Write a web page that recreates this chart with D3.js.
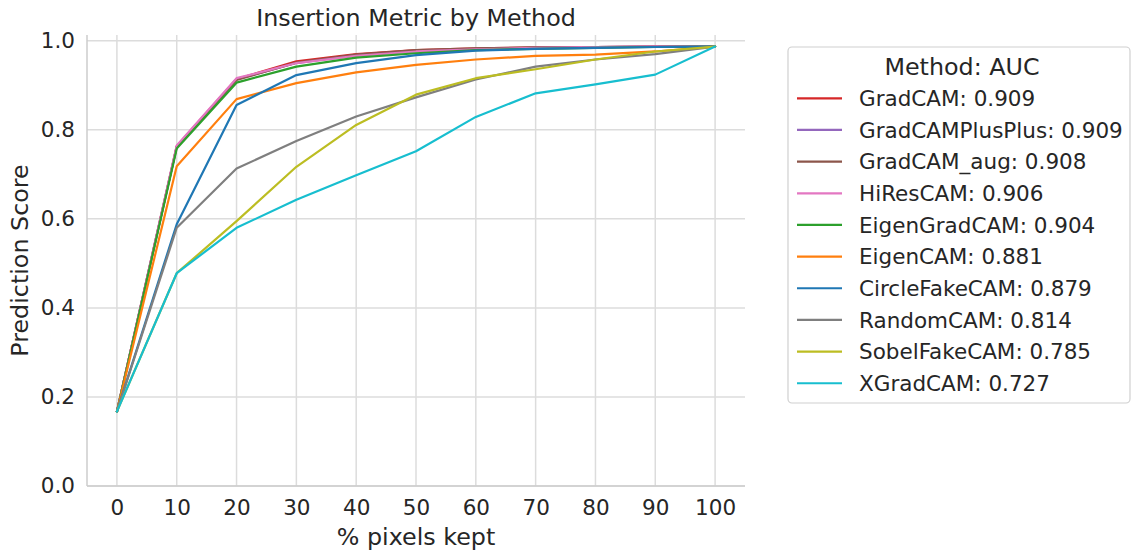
<html>
<script src="https://cdn.jsdelivr.net/npm/d3@7"></script>
<style>
body { margin: 0; background: #fff; }
text { font-family: "DejaVu Sans", sans-serif; fill: #262626; }
</style>
<body></body>
<script>

// data
var pixelsKept = [0, 10, 20, 30, 40, 50, 60, 70, 80, 90, 100];
var methods = ["GradCAM", "GradCAMPlusPlus", "GradCAM_aug", "HiResCAM", "EigenGradCAM",
	"EigenCAM", "CircleFakeCAM", "RandomCAM", "SobelFakeCAM", "XGradCAM"];
var aucs = ["0.909", "0.909", "0.908", "0.906", "0.904", "0.881", "0.879", "0.814", "0.785", "0.727"];
var colors = ["#d62728", "#9467bd", "#8c564b", "#e377c2", "#2ca02c",
	"#ff7f0e", "#1f77b4", "#7f7f7f", "#bcbd22", "#17becf"];

var gradcam         = [0.167, 0.763, 0.914, 0.954, 0.970, 0.979, 0.983, 0.985, 0.986, 0.987, 0.987];
var gradcamPlusPlus = [0.167, 0.762, 0.913, 0.950, 0.968, 0.977, 0.982, 0.984, 0.986, 0.987, 0.987];
var gradcamAug      = [0.167, 0.762, 0.912, 0.951, 0.969, 0.979, 0.983, 0.985, 0.986, 0.987, 0.987];
var hirescam        = [0.167, 0.765, 0.916, 0.950, 0.966, 0.976, 0.981, 0.984, 0.986, 0.987, 0.987];
var eigengradcam    = [0.167, 0.758, 0.906, 0.942, 0.962, 0.972, 0.979, 0.982, 0.984, 0.986, 0.987];
var eigencam        = [0.167, 0.718, 0.869, 0.905, 0.929, 0.946, 0.958, 0.966, 0.969, 0.976, 0.987];
var circlefakecam   = [0.167, 0.588, 0.856, 0.923, 0.950, 0.968, 0.978, 0.982, 0.984, 0.986, 0.987];
var randomcam       = [0.167, 0.580, 0.713, 0.775, 0.830, 0.873, 0.913, 0.942, 0.958, 0.970, 0.987];
var sobelfakecam    = [0.167, 0.478, 0.595, 0.717, 0.811, 0.879, 0.916, 0.936, 0.958, 0.976, 0.987];
var xgradcam        = [0.167, 0.478, 0.580, 0.643, 0.698, 0.752, 0.829, 0.882, 0.902, 0.924, 0.987];

var seriesValues = [gradcam, gradcamPlusPlus, gradcamAug, hirescam, eigengradcam,
	eigencam, circlefakecam, randomcam, sobelfakecam, xgradcam];

var xTicks = [0, 10, 20, 30, 40, 50, 60, 70, 80, 90, 100];
var yTicks = [0.0, 0.2, 0.4, 0.6, 0.8, 1.0];

var screen_w = 1138;
var screen_h = 552;
var plotL = 87, plotR = 745, plotT = 35, plotB = 486;

var svg = d3.select("body").append("svg")
	.attr("width", screen_w)
	.attr("height", screen_h);

var x = d3.scaleLinear().domain([-5, 105]).range([plotL, plotR]);
var y = d3.scaleLinear().domain([0, 1.013]).range([plotB, plotT]);

// grid
svg.append("g").selectAll("line").data(xTicks).enter().append("line")
	.attr("x1", d => x(d)).attr("x2", d => x(d))
	.attr("y1", plotT).attr("y2", plotB)
	.style("stroke", "#dcdcdc").style("stroke-width", 1.5);
svg.append("g").selectAll("line").data(yTicks).enter().append("line")
	.attr("x1", plotL).attr("x2", plotR)
	.attr("y1", d => y(d)).attr("y2", d => y(d))
	.style("stroke", "#dcdcdc").style("stroke-width", 1.5);

// axes
var xAxis = svg.append("g")
	.attr("transform", "translate(0," + plotB + ")")
	.call(d3.axisBottom(x).tickValues(xTicks).tickSize(0).tickPadding(12).tickFormat(d3.format("d")));
var yAxis = svg.append("g")
	.attr("transform", "translate(" + plotL + ",0)")
	.call(d3.axisLeft(y).tickValues(yTicks).tickSize(0).tickPadding(12).tickFormat(d3.format(".1f")));
xAxis.select(".domain").style("stroke", "#cccccc").style("stroke-width", 1.5)
	.attr("d", "M" + plotL + ",0H" + plotR);
yAxis.select(".domain").style("stroke", "#cccccc").style("stroke-width", 1.5)
	.attr("d", "M0," + plotT + "V" + plotB);
svg.selectAll(".tick text").style("font-size", "21.5px").style("fill", "#262626")
	.style("font-family", "DejaVu Sans");
xAxis.selectAll(".tick text").attr("dy", "0.71em").attr("y", 14);

// lines
var line = d3.line()
	.x((d, i) => x(pixelsKept[i]))
	.y(d => y(d));

svg.append("g").selectAll("path").data(seriesValues).enter().append("path")
	.attr("d", line)
	.style("fill", "none")
	.style("stroke", (d, i) => colors[i])
	.style("stroke-width", 2.2)
	.style("stroke-linejoin", "round")
	.style("stroke-linecap", "round");

// labels
svg.append("text")
	.attr("x", (plotL + plotR) / 2).attr("y", 26)
	.attr("text-anchor", "middle")
	.style("font-size", "23.8px")
	.text("Insertion Metric by Method");
svg.append("text")
	.attr("x", (plotL + plotR) / 2).attr("y", 545)
	.attr("text-anchor", "middle")
	.style("font-size", "23.8px")
	.text("% pixels kept");
svg.append("text")
	.attr("transform", "translate(28," + ((plotT + plotB) / 2) + ") rotate(-90)")
	.attr("text-anchor", "middle")
	.style("font-size", "23.8px")
	.text("Prediction Score");

// legend
var legend = svg.append("g");
legend.append("rect")
	.attr("x", 788).attr("y", 47)
	.attr("width", 342).attr("height", 356)
	.attr("rx", 4)
	.style("fill", "#fff")
	.style("stroke", "#d0d0d0")
	.style("stroke-width", 1.2);
legend.append("text")
	.attr("x", 962).attr("y", 75)
	.attr("text-anchor", "middle")
	.style("font-size", "23.8px")
	.text("Method: AUC");

var rows = legend.selectAll("g.row").data(methods).enter().append("g")
	.attr("class", "row")
	.attr("transform", (d, i) => "translate(0," + (98.3 + i * 31.66) + ")");
rows.append("line")
	.attr("x1", 797).attr("x2", 842)
	.attr("y1", 0).attr("y2", 0)
	.style("stroke", (d, i) => colors[i])
	.style("stroke-width", 2.2);
rows.append("text")
	.attr("x", 859).attr("y", 0).attr("dy", "0.36em")
	.style("font-size", "21.5px")
	.text((d, i) => d + ": " + aucs[i]);

</script>
</html>
